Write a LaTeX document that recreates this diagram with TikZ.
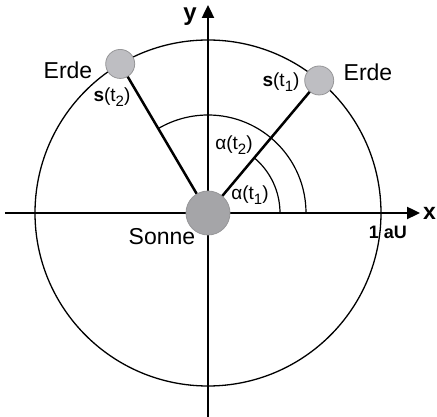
\documentclass[tikz,border=0pt]{standalone}
\usepackage{fontspec}
\setmainfont{Liberation Sans}
\usetikzlibrary{arrows.meta}
\definecolor{sungray}{RGB}{165,165,168}
\definecolor{earthgray}{RGB}{190,190,194}
\definecolor{rimgray}{RGB}{150,150,152}
\newcommand{\lowidx}[1]{\raisebox{-0.3em}{\fontsize{15}{15}\selectfont #1}}
\tikzset{
  axis/.style={line width=2.4pt,-{Triangle[length=13pt,width=12pt]}},
  body/.style={circle,draw=rimgray,line width=0.8pt,inner sep=0pt},
  radius line/.style={line width=2.5pt},
  bigtext/.style={font=\fontsize{23}{23}\selectfont},
  smalltext/.style={font=\fontsize{19}{19}\selectfont},
}
\begin{document}
\begin{tikzpicture}[x=1pt,y=1pt]
  \useasboundingbox (-208,-204) rectangle (229,213);
  \draw[line width=1.3pt] (0,0) circle[radius=173];
  \draw[line width=1.2pt] (72,0) arc[start angle=0,end angle=50,radius=72];
  \draw[line width=1.2pt] (98,0) arc[start angle=0,end angle=120.5,radius=98];
  \coordinate (xstart) at (-203,0);
  \coordinate (xend) at (212,0);
  \coordinate (ystart) at (0,-204);
  \coordinate (yend) at (0,208);
  \draw[axis] (xstart) -- (xend);
  \draw[axis] (ystart) -- (yend);
  \node[body,fill=sungray,minimum size=44pt] (sonne) at (0,0) {};
  \node[body,fill=earthgray,minimum size=29pt] (erde1) at (50:173) {};
  \node[body,fill=earthgray,minimum size=29pt] (erde2) at (120.5:173) {};
  \draw[radius line] (sonne) -- (erde1);
  \draw[radius line] (sonne) -- (erde2);
  \node[bigtext] (erde2lbl) at (-140,143) {Erde};
  \node[bigtext] (erde1lbl) at (160,141) {Erde};
  \node[bigtext] (sonnelbl) at (-46,-24) {Sonne};
  \node[smalltext] (s2) at (-96,116) {\textbf{s}(t\lowidx{2})};
  \node[smalltext] (s1) at (73,131) {\textbf{s}(t\lowidx{1})};
  \node[smalltext] (alpha2) at (26,68) {α(t\lowidx{2})};
  \node[smalltext] (alpha1) at (42,18) {α(t\lowidx{1})};
  \node[font=\fontsize{18}{18}\selectfont\bfseries] (au) at (180,-19) {1 aU};
  \node[font=\fontsize{23}{23}\selectfont\bfseries] (xlbl) at (221.5,0) {x};
  \node[font=\fontsize{24}{24}\selectfont\bfseries] (ylbl) at (-18,196) {y};
\end{tikzpicture}
\end{document}
